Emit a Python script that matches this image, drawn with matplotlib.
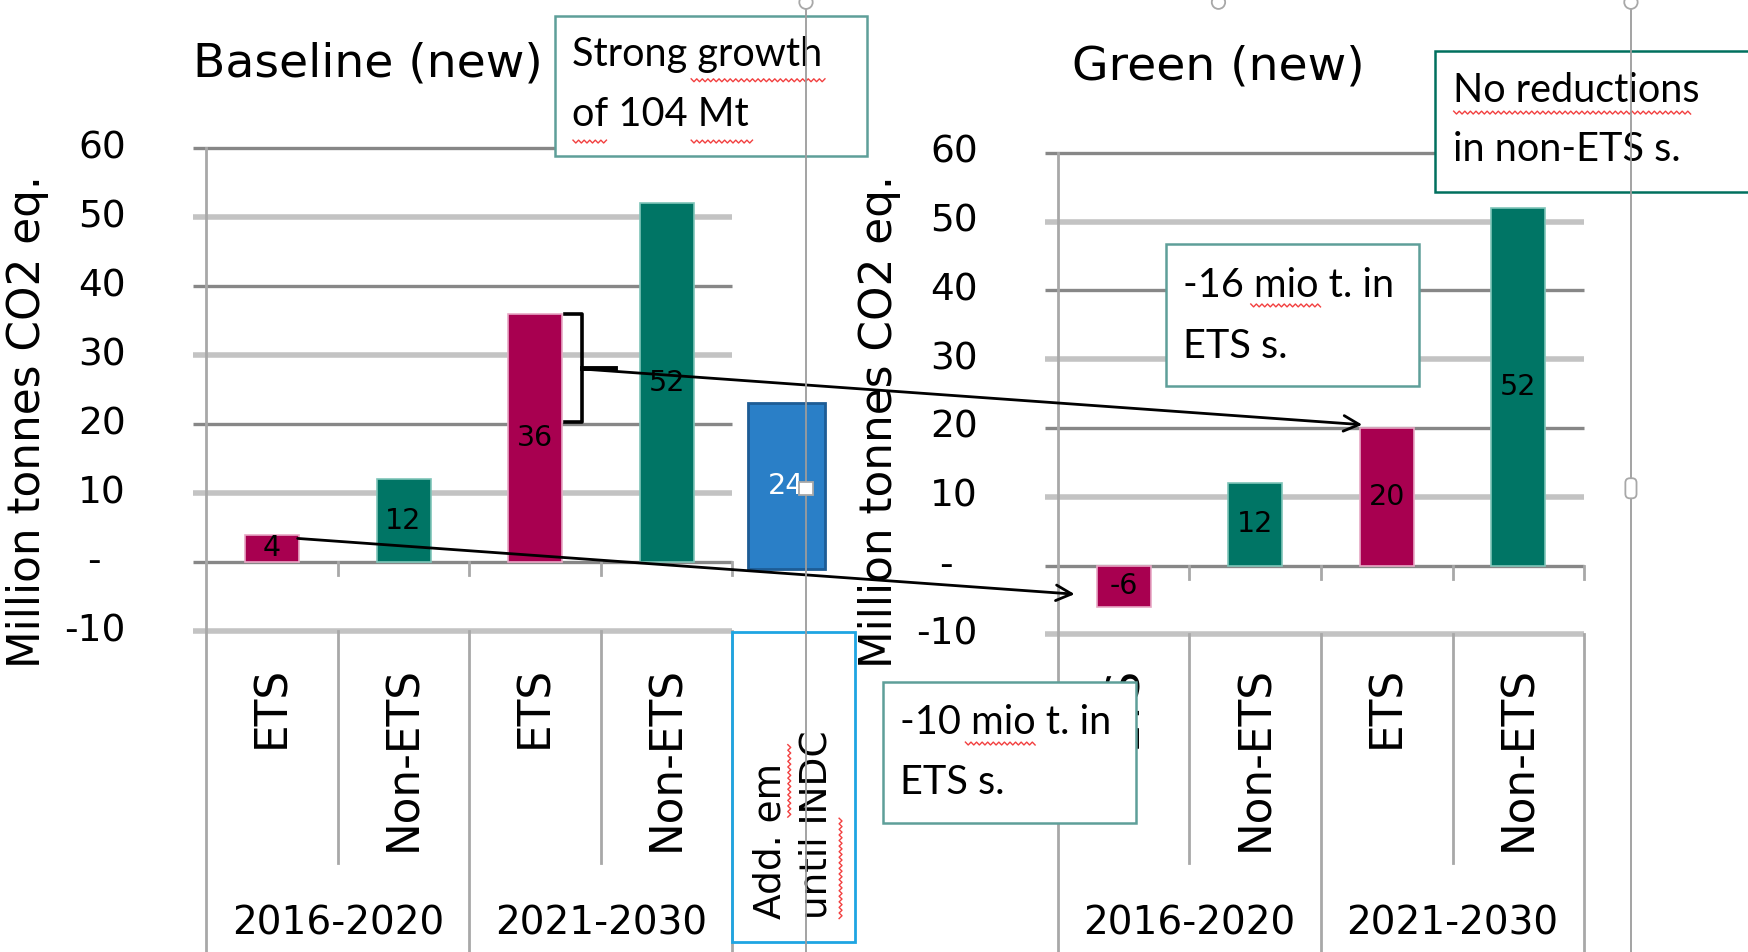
import numpy as np
import matplotlib
matplotlib.use('Agg')
import matplotlib.pyplot as plt
from matplotlib.patches import Rectangle, Circle, FancyBboxPatch

# ---------------- data ----------------
categories = ['ETS', 'Non-ETS', 'ETS', 'Non-ETS']
periods = ['2016-2020', '2021-2030']
baseline_values = [4, 12, 36, 52]
green_values = [-6, 12, 20, 52]
add_em_value = 24
add_em_text = 'Add. em\nuntil INDC'
yticks = [-10, 0, 10, 20, 30, 40, 50, 60]
yticklabels = ['-10', '-', '10', '20', '30', '40', '50', '60']
titles = ['Baseline (new)', 'Green (new)']
ylabel = 'Million tonnes CO2 eq.'
note_growth = ['Strong growth', 'of 104 Mt']
note_nonets = ['No reductions', 'in non-ETS s.']
note_green_ets = ['-16 mio t. in', 'ETS s.']
note_early_ets = ['-10 mio t. in', 'ETS s.']

MAGENTA = '#A80050'
TEAL = '#007565'
BLUE = '#2A7FC7'
bar_colors = [MAGENTA, TEAL, MAGENTA, TEAL]
edge_colors = ['#E7A8C5', '#7FC5B9', '#E7A8C5', '#7FC5B9']
NOTE_EDGE = '#5E9F99'
DARK_NOTE_EDGE = '#00705E'
AXIS_GRAY = '#A8A8A8'
SANS = ['DejaVu Sans']
NOTE_FONT = ['Lato', 'DejaVu Sans']

# reference layout units (1568 x 854)
W, H = 1568, 854
CAT_W = 118.0

fig = plt.figure(figsize=(17.48, 9.52), dpi=100)
fig.patch.set_facecolor('white')


def make_axes(x0, x1, y_zero, ppu):
    ax = fig.add_axes([x0 / W, 0, (x1 - x0) / W, 1])
    ax.set_xlim(0, (x1 - x0) / CAT_W)
    ax.set_ylim((y_zero - H) / ppu, y_zero / ppu)
    ax.axis('off')
    return ax


def draw_chart(ax, values, y_zero, ppu):
    vy = lambda y: (y_zero - y) / ppu
    ymin = ax.get_ylim()[0]
    x = np.arange(len(values)) + 0.5
    # gridlines
    for v in yticks:
        dark = (v // 10) % 2 == 0
        ax.plot([-0.1, 4.0], [v, v], color='#878787' if dark else '#C3C3C3',
                lw=2.4 if dark else 4.0, solid_capstyle='butt', clip_on=False, zorder=1)
    # vertical axis and separators
    ax.plot([0, 0], [60, ymin], color=AXIS_GRAY, lw=2, clip_on=False, zorder=2)
    for k in (1, 2, 3, 4):
        ax.plot([k, k], [0, -1.9], color=AXIS_GRAY, lw=2, clip_on=False, zorder=2)
    for k in (1, 3):
        ax.plot([k, k], [-10, vy(774)], color=AXIS_GRAY, lw=2, clip_on=False, zorder=2)
    for k in (2, 4):
        ax.plot([k, k], [-10, ymin], color=AXIS_GRAY, lw=2, clip_on=False, zorder=2)
    # bars
    ax.bar(x, values, width=0.41, color=bar_colors, edgecolor=edge_colors,
           linewidth=1.2, zorder=3)
    for xi, v in zip(x, values):
        ax.text(xi, v / 2, str(v), ha='center', va='center', fontsize=20.5,
                family=SANS, zorder=4)
    # category labels
    for xi, c in zip(x, categories):
        ax.text(xi, vy(597), c, rotation=90, ha='center', va='top', fontsize=31.5,
                family=SANS, clip_on=False)
    for k, p in zip((1, 3), periods):
        ax.text(k, vy(828), p, ha='center', va='center', fontsize=28, family=SANS)
    # y tick labels
    for v, l in zip(yticks, yticklabels):
        if l == '-':
            ax.text(-0.855, v, l, ha='center', va='center', fontsize=27, family=SANS)
        else:
            ax.text(-0.61, v, l, ha='right', va='center', fontsize=27, family=SANS)
    ax.text(-1.355, vy(378), ylabel, rotation=90, ha='center', va='center',
            fontsize=31.5, family=SANS)


ax1 = make_axes(185, 767, 504.3, 6.19)
draw_chart(ax1, baseline_values, 504.3, 6.19)
# additional emissions bar in the baseline chart
ax1.bar([4.41], [add_em_value], bottom=-1.0, width=0.58, color=BLUE,
        edgecolor='#1D5C95', linewidth=2, zorder=3)
ax1.text(4.41, -1.0 + add_em_value / 2, str(add_em_value), ha='center', va='center',
         fontsize=20.5, color='white', family=SANS, zorder=4)

ax2 = make_axes(949, 1421, 507.3, 6.17)
draw_chart(ax2, green_values, 507.3, 6.17)

# ---------------- overlay (annotations) ----------------
ov = fig.add_axes([0, 0, 1, 1])
ov.set_xlim(0, W)
ov.set_ylim(H, 0)
ov.axis('off')

fig.text(173 / W, 1 - 57 / H, titles[0], ha='left', va='center', fontsize=34, family=SANS)
fig.text(962 / W, 1 - 60 / H, titles[1], ha='left', va='center', fontsize=34, family=SANS)


def note(x0, y0, x1, y1, lines, ec, tx, ty1, ty2):
    ov.add_patch(Rectangle((x0, y0), x1 - x0, y1 - y0, facecolor='white',
                           edgecolor=ec, lw=1.8, zorder=5, clip_on=False))
    ov.text(tx, ty1, lines[0], ha='left', va='center', fontsize=28.5, family=NOTE_FONT, zorder=6)
    ov.text(tx, ty2, lines[1], ha='left', va='center', fontsize=28.5, family=NOTE_FONT, zorder=6)


note(498, 14, 778, 140, note_growth, NOTE_EDGE, 513, 49, 103)
note(1287, 46, 1590, 172, note_nonets, DARK_NOTE_EDGE, 1303, 81, 134)
note(1046, 219, 1273, 346, note_green_ets, NOTE_EDGE, 1061, 256, 311)
note(792, 612, 1019, 738, note_early_ets, NOTE_EDGE, 807, 648, 702)

# add. emissions label box
ov.add_patch(Rectangle((657, 567), 110, 278, facecolor='none', edgecolor='#1EA5E2',
                       lw=2, zorder=5))
ov.text(712, 824, add_em_text, rotation=90, ha='center', va='bottom',
        multialignment='left', fontsize=27, family=SANS, linespacing=1.35, zorder=6)

# arrows and bracket
arrow_kw = dict(arrowstyle='->', color='black', lw=2.0, mutation_scale=28,
                shrinkA=0, shrinkB=0)
ov.annotate('', xy=(964, 533), xytext=(267, 483), arrowprops=arrow_kw, zorder=7)
ov.annotate('', xy=(1222, 381), xytext=(522, 331), arrowprops=arrow_kw, zorder=7)
ov.plot([507, 522, 522, 507], [282, 282, 379, 379], color='black', lw=2.6, zorder=7)
ov.plot([522, 552], [330, 330], color='black', lw=3.5, zorder=7)

# selection lines and handles
for xl in (723, 1463):
    ov.plot([xl, xl], [0, H], color='#9C9C9C', lw=1.3, zorder=8)
for cx, cy in ((723, 2), (1093, 2), (1463, 2)):
    ov.add_patch(Circle((cx, cy), 6, facecolor='white', edgecolor='#A8A8A8', lw=1.3,
                        zorder=9, clip_on=False))
ov.add_patch(FancyBboxPatch((1458, 429), 10, 18, boxstyle='round,pad=0,rounding_size=4',
                            facecolor='white', edgecolor='#A8A8A8', lw=1.3, zorder=9))
ov.add_patch(Rectangle((717, 432), 12, 12, facecolor='white', edgecolor='#A8A8A8',
                       lw=1.3, zorder=9))


# spelling squiggles
def squiggle(a0, a1, b, vertical=False):
    t = np.arange(a0, a1 + 0.1, 2.5)
    s = b + np.where(np.arange(len(t)) % 2 == 0, -1.3, 1.3)
    if vertical:
        ov.plot(s, t, color='#F24040', lw=1.0, zorder=7)
    else:
        ov.plot(t, s, color='#F24040', lw=1.0, zorder=7)


squiggle(620, 740, 72)
squiggle(514, 545, 127)
squiggle(620, 675, 127)
squiggle(1304, 1518, 101)
squiggle(1122, 1185, 274)
squiggle(866, 930, 667)
squiggle(668, 733, 708, vertical=True)
squiggle(734, 824, 754, vertical=True)

fig.savefig('out.png', dpi=100, facecolor='white')
